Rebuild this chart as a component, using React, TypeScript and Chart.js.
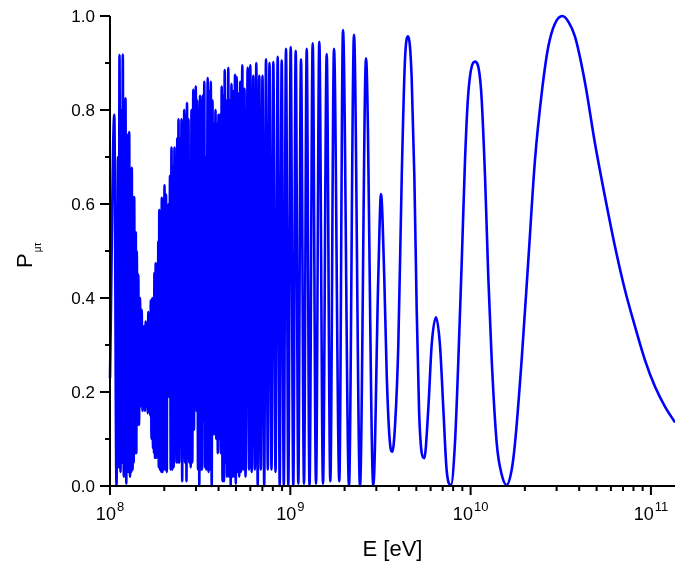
import { useEffect, useRef } from "react";
import { Chart, registerables } from "chart.js";

Chart.register(...registerables);

// Curve: [log10(E / eV), P_mu_tau]
const lowEnergyPoints: [number, number][] = [
  [8.0, 0.23], [8.0238, 0.79], [8.0361, 0.0], [8.0444, 0.7], [8.0488, 0.04], [8.0527, 0.917], [8.0582, 0.03], [8.0638, 0.8],
  [8.0666, 0.05], [8.071, 0.918], [8.0765, 0.02], [8.0804, 0.72], [8.0832, 0.04], [8.086, 0.825], [8.0904, 0.005], [8.0943, 0.7],
  [8.0965, 0.03], [8.0993, 0.747], [8.1026, 0.03], [8.1065, 0.753], [8.1109, 0.02], [8.1154, 0.62], [8.1181, 0.03], [8.1209, 0.677],
  [8.1253, 0.035], [8.1292, 0.58], [8.1314, 0.05], [8.1342, 0.615], [8.1387, 0.07], [8.1431, 0.54], [8.1459, 0.07], [8.1486, 0.5],
  [8.1525, 0.13], [8.157, 0.45], [8.1608, 0.13], [8.1664, 0.4], [8.1708, 0.17], [8.1758, 0.375], [8.1803, 0.16], [8.1841, 0.33],
  [8.1864, 0.19], [8.1886, 0.34], [8.1941, 0.16], [8.198, 0.35], [8.2024, 0.17], [8.2069, 0.33], [8.2097, 0.155], [8.2124, 0.37],
  [8.2163, 0.16], [8.2202, 0.35], [8.2235, 0.15], [8.2263, 0.395], [8.2302, 0.1], [8.2346, 0.4], [8.2385, 0.08], [8.2418, 0.36],
  [8.244, 0.07], [8.2463, 0.453], [8.2496, 0.06], [8.2535, 0.474], [8.2568, 0.06], [8.2607, 0.43], [8.2646, 0.06], [8.2679, 0.52],
  [8.2707, 0.04], [8.2734, 0.587], [8.2773, 0.035], [8.2818, 0.56], [8.2845, 0.03], [8.2873, 0.613], [8.2912, 0.03], [8.2951, 0.6],
  [8.2984, 0.035], [8.3023, 0.64], [8.3067, 0.035], [8.3106, 0.62], [8.315, 0.03], [8.3178, 0.56], [8.3217, 0.19], [8.3256, 0.6],
  [8.3289, 0.19], [8.3328, 0.66], [8.3367, 0.035], [8.3411, 0.72], [8.3455, 0.035], [8.3494, 0.68], [8.3533, 0.04], [8.3577, 0.72],
  [8.3605, 0.14], [8.3644, 0.7], [8.3688, 0.05], [8.3733, 0.74], [8.3772, 0.05], [8.3799, 0.78], [8.3844, 0.05], [8.3882, 0.74],
  [8.3921, 0.085], [8.3966, 0.78], [8.4004, 0.01], [8.4049, 0.76], [8.4088, 0.08], [8.4115, 0.8], [8.416, 0.05], [8.4199, 0.79],
  [8.4243, 0.01], [8.4271, 0.815], [8.4315, 0.06], [8.4354, 0.78], [8.4398, 0.05], [8.4437, 0.63], [8.4476, 0.04], [8.452, 0.8],
  [8.4565, 0.05], [8.462, 0.843], [8.4659, 0.12], [8.4698, 0.82], [8.4731, 0.2], [8.4759, 0.85], [8.4798, 0.16], [8.4836, 0.82],
  [8.4881, 0.035], [8.492, 0.8], [8.4953, 0.0], [8.4992, 0.83], [8.5031, 0.035], [8.5064, 0.68], [8.5103, 0.035], [8.5141, 0.83],
  [8.5175, 0.14], [8.523, 0.86], [8.5269, 0.04], [8.5308, 0.7], [8.5341, 0.035], [8.5419, 0.868], [8.5463, 0.03], [8.5507, 0.84],
  [8.5546, 0.035], [8.5591, 0.86], [8.5641, 0.0], [8.5685, 0.82], [8.5724, 0.11], [8.5768, 0.77], [8.5813, 0.11], [8.5851, 0.8],
  [8.5896, 0.1], [8.5935, 0.77], [8.5979, 0.07], [8.6018, 0.79], [8.6062, 0.1], [8.6101, 0.79], [8.6145, 0.07], [8.6195, 0.85],
  [8.624, 0.01], [8.6278, 0.83], [8.6323, 0.01], [8.6362, 0.885], [8.6406, 0.05], [8.645, 0.82], [8.6489, 0.02], [8.6561, 0.889],
  [8.66, 0.02], [8.6644, 0.82], [8.6694, 0.0], [8.6739, 0.855], [8.6783, 0.02], [8.6833, 0.84], [8.6877, 0.02], [8.6933, 0.875],
  [8.6977, 0.005], [8.7027, 0.87], [8.7072, 0.03], [8.7116, 0.835], [8.7166, 0.02], [8.7221, 0.86], [8.7266, 0.03], [8.7338, 0.895],
  [8.7393, 0.035], [8.746, 0.845], [8.7515, 0.02],
];

const midEnergyPoints: [number, number][] = [
  [8.7637, 0.89], [8.7709, 0.035], [8.7781, 0.895], [8.7859, 0.03], [8.7948, 0.873], [8.8031, 0.035], [8.8114, 0.9], [8.8192, 0.0],
  [8.8281, 0.873], [8.8364, 0.035], [8.8458, 0.873], [8.8552, 0.0], [8.8652, 0.908], [8.8752, 0.035], [8.8846, 0.9], [8.8957, 0.035],
  [8.9057, 0.902], [8.9179, 0.03], [8.9301, 0.913], [8.9412, 0.0], [8.9523, 0.906], [8.9639, 0.0], [8.9761, 0.93], [8.9889, 0.0],
  [9.0022, 0.934], [9.0166, 0.0], [9.03, 0.926], [9.0444, 0.005], [9.0593, 0.908], [9.076, 0.005], [9.091, 0.93], [9.1065, 0.0],
  [9.1242, 0.942], [9.1426, 0.005], [9.1608, 0.945], [9.1814, 0.005], [9.2019, 0.919], [9.2219, 0.01], [9.2424, 0.93], [9.2718, 0.01],
  [9.2923, 0.97], [9.3256, 0.0], [9.3533, 0.96], [9.3866, 0.0], [9.4199, 0.91], [9.4604, 0.0],
];

const highEnergyPoints: [number, number][] = [
  [9.488, 0.445], [9.503, 0.621], [9.521, 0.445], [9.535, 0.233], [9.553, 0.09], [9.566, 0.073], [9.581, 0.13], [9.599, 0.3],
  [9.618, 0.658], [9.636, 0.907], [9.654, 0.957], [9.673, 0.87], [9.688, 0.658], [9.701, 0.375], [9.714, 0.162], [9.729, 0.07],
  [9.743, 0.059], [9.765, 0.162], [9.784, 0.3], [9.808, 0.359], [9.83, 0.3], [9.849, 0.162], [9.867, 0.034], [9.891, 0.002],
  [9.913, 0.09], [9.932, 0.268], [9.951, 0.48], [9.969, 0.694], [9.987, 0.835], [10.024, 0.903], [10.058, 0.843], [10.08, 0.658],
  [10.098, 0.445], [10.117, 0.268], [10.145, 0.09], [10.172, 0.025], [10.2, 0.002], [10.228, 0.035], [10.246, 0.09], [10.283, 0.268],
  [10.32, 0.48], [10.357, 0.694], [10.394, 0.835], [10.431, 0.935], [10.468, 0.984], [10.509, 1.0], [10.542, 0.988], [10.579, 0.956],
  [10.635, 0.857], [10.69, 0.728], [10.745, 0.616], [10.801, 0.509], [10.856, 0.417], [10.912, 0.339], [10.967, 0.268], [11.023, 0.211],
  [11.078, 0.169], [11.134, 0.135],
];

// Axes
const E_MIN = 1e8;
const E_MAX = 1.36e11;
const P_MIN = 0;
const P_MAX = 1;
const yMajorTicks = [0, 0.2, 0.4, 0.6, 0.8, 1.0];
const yTickLabels = ["0.0", "0.2", "0.4", "0.6", "0.8", "1.0"];
const yMinorTicks = [0.1, 0.3, 0.5, 0.7, 0.9];
const xDecadeExponents = [8, 9, 10, 11];
const xMinorMultipliers = [2, 3, 4, 5, 6, 7, 8, 9];
const xAxisTitle = "E [eV]";
const yAxisTitle = "P";
const yAxisTitleSub = "μτ";

const FONT = '"Liberation Sans", Arial, Helvetica, sans-serif';

const axesPlugin = {
  id: "originAxes",
  afterDraw(chart: any) {
    const { ctx } = chart;
    const { left, right, top, bottom } = chart.chartArea;
    const xs = chart.scales.x;
    const ys = chart.scales.y;
    ctx.save();
    ctx.strokeStyle = "#000";
    ctx.fillStyle = "#000";
    ctx.lineWidth = 2;
    ctx.lineCap = "butt";

    // tick marks
    ctx.beginPath();
    yMajorTicks.forEach((v) => {
      const y = ys.getPixelForValue(v);
      ctx.moveTo(left - 10, y);
      ctx.lineTo(left, y);
    });
    yMinorTicks.forEach((v) => {
      const y = ys.getPixelForValue(v);
      ctx.moveTo(left - 5, y);
      ctx.lineTo(left, y);
    });
    xDecadeExponents.forEach((e) => {
      const x = xs.getPixelForValue(Math.pow(10, e));
      ctx.moveTo(x, bottom);
      ctx.lineTo(x, bottom + 9);
    });
    xDecadeExponents.forEach((e) => {
      xMinorMultipliers.forEach((m) => {
        const v = m * Math.pow(10, e);
        if (v > E_MAX) return;
        const x = xs.getPixelForValue(v);
        ctx.moveTo(x, bottom);
        ctx.lineTo(x, bottom + 5);
      });
    });
    ctx.stroke();

    // axis lines
    ctx.beginPath();
    ctx.moveTo(left, top);
    ctx.lineTo(left, bottom);
    ctx.lineTo(right, bottom);
    ctx.stroke();

    // y tick labels
    ctx.font = `17px ${FONT}`;
    ctx.textAlign = "right";
    ctx.textBaseline = "middle";
    yMajorTicks.forEach((v, i) => {
      ctx.fillText(yTickLabels[i], left - 15, ys.getPixelForValue(v) + 1);
    });

    // x tick labels 10^n
    ctx.textAlign = "left";
    ctx.textBaseline = "alphabetic";
    xDecadeExponents.forEach((e) => {
      const x = xs.getPixelForValue(Math.pow(10, e));
      ctx.font = `18px ${FONT}`;
      const base = "10";
      const wb = ctx.measureText(base).width;
      ctx.font = `13px ${FONT}`;
      const sup = String(e);
      const ws = ctx.measureText(sup).width;
      const x0 = x - (wb + 1 + ws) / 2;
      ctx.font = `18px ${FONT}`;
      ctx.fillText(base, x0, bottom + 34);
      ctx.font = `13px ${FONT}`;
      ctx.fillText(sup, x0 + wb + 1, bottom + 25);
    });

    // x axis title
    ctx.font = `22px ${FONT}`;
    ctx.textAlign = "center";
    ctx.fillText(xAxisTitle, (left + right) / 2, bottom + 70);

    // y axis title with subscript
    ctx.save();
    ctx.translate(left - 78, (top + bottom) / 2 + 17);
    ctx.rotate(-Math.PI / 2);
    ctx.textAlign = "left";
    ctx.font = `22px ${FONT}`;
    ctx.fillText(yAxisTitle, 0, 0);
    const wp = ctx.measureText(yAxisTitle).width;
    ctx.font = `10px ${FONT}`;
    ctx.fillText(yAxisTitleSub, wp + 1, 9);
    ctx.restore();

    ctx.restore();
  },
};

export default function App() {
  const canvasRef = useRef<HTMLCanvasElement>(null);

  useEffect(() => {
    const canvas = canvasRef.current;
    if (!canvas) return;
    const points = [...lowEnergyPoints, ...midEnergyPoints, ...highEnergyPoints].map(([l, p]) => ({
      x: Math.pow(10, l),
      y: p,
    }));
    const chart = new Chart(canvas, {
      type: "line",
      data: {
        datasets: [
          {
            data: points,
            borderColor: "#0000ff",
            borderWidth: 2.6,
            pointRadius: 0,
            pointHoverRadius: 0,
            fill: false,
            cubicInterpolationMode: "monotone",
            borderJoinStyle: "round",
            clip: 4,
          } as any,
        ],
      },
      options: {
        responsive: false,
        maintainAspectRatio: false,
        animation: false,
        devicePixelRatio: 1,
        events: [],
        layout: { padding: { left: 110, right: 0, top: 16, bottom: 81 } },
        scales: {
          x: { type: "logarithmic", min: E_MIN, max: E_MAX, display: false },
          y: { type: "linear", min: P_MIN, max: P_MAX, display: false },
        },
        plugins: {
          legend: { display: false },
          tooltip: { enabled: false },
        },
      },
      plugins: [axesPlugin],
    });
    return () => chart.destroy();
  }, []);

  return (
    <div style={{ position: "absolute", left: 0, top: 0, width: 675, height: 567, background: "#fff" }}>
      <canvas ref={canvasRef} width={675} height={567} style={{ display: "block", width: 675, height: 567 }} />
    </div>
  );
}
